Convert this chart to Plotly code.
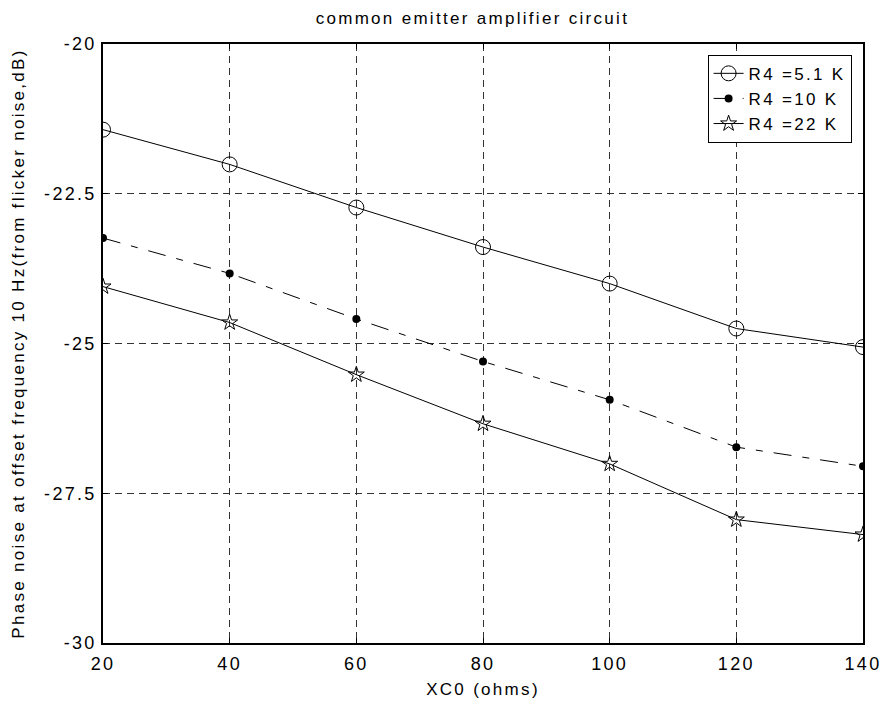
import plotly.graph_objects as go

# XC0 sweep (ohms) and phase noise at 10 Hz offset (dB) for each R4
xc0 = [20, 40, 60, 80, 100, 120, 140]
r4_5k1 = [-21.43, -22.01, -22.73, -23.39, -24.00, -24.75, -25.06]
r4_10k = [-23.24, -23.83, -24.59, -25.30, -25.94, -26.73, -27.05]
r4_22k = [-24.05, -24.65, -25.52, -26.34, -27.01, -27.94, -28.19]

x_ticks = [20, 40, 60, 80, 100, 120, 140]
y_ticks = [-30, -27.5, -25, -22.5, -20]
y_tick_text = ["-30", "-27.5", "-25", "-22.5", "-20"]

FONT = "Liberation Sans, Arial, sans-serif"
FONT_SPACED = "Liberation Sans, Arial, Helvetica, sans-serif"

fig = go.Figure()
fig.add_trace(go.Scatter(
    x=xc0, y=r4_5k1, mode="lines+markers", name="R4 =5.1 K",
    line=dict(color="black", width=1),
    marker=dict(symbol="circle-open", size=15, color="black", line=dict(width=1)),
))
fig.add_trace(go.Scatter(
    x=xc0, y=r4_10k, mode="lines+markers", name="R4 =10 K",
    line=dict(color="black", width=1, dash="18px,11px,7px,11px"),
    marker=dict(symbol="circle", size=8, color="black"),
))
fig.add_trace(go.Scatter(
    x=xc0, y=r4_22k, mode="lines+markers", name="R4 =22 K",
    line=dict(color="black", width=1),
    marker=dict(symbol="star-open", size=12, color="black", line=dict(width=1)),
))

axis_common = dict(
    showline=True, linecolor="black", linewidth=1.5, mirror="allticks",
    ticks="inside", ticklen=5, tickcolor="black",
    showgrid=True, gridcolor="#333333", gridwidth=1, griddash="7px,5px",
    zeroline=False, automargin=False,
    tickfont=dict(size=18, color="black"),
)

fig.update_layout(
    width=883, height=707,
    margin=dict(l=103, r=20, t=44, b=64),
    paper_bgcolor="white", plot_bgcolor="white",
    font=dict(family=FONT, color="black", size=17),
    title=dict(text="common emitter amplifier circuit", x=0.535, xanchor="center",
               y=0.974, yanchor="middle", font=dict(size=17, color="black")),
    xaxis=dict(range=[20, 140], tickvals=x_ticks, ticklabelstandoff=4,
               title=dict(text="XC0 (ohms)", standoff=10, font=dict(size=17)),
               **axis_common),
    yaxis=dict(range=[-30, -20], tickvals=y_ticks, ticktext=y_tick_text,
               ticklabelstandoff=1,
               title=dict(text="Phase noise at offset frequency 10 Hz(from flicker noise,dB)",
                          standoff=15, font=dict(size=17)),
               **axis_common),
    legend=dict(x=0.985, y=0.982, xanchor="right", yanchor="top",
                bordercolor="black", borderwidth=1, bgcolor="white",
                font=dict(size=17, color="black"),
                itemwidth=30),
    showlegend=True,
)

# The text is drawn with wide tracking; the style is added and the figure is
# laid out again so that label and legend sizes are measured with it.
post = """
var gd = document.getElementById('{plot_id}');
var st = document.createElement('style');
st.textContent = 'svg text { letter-spacing: 2.3px; }';
document.head.appendChild(st);
return Plotly.relayout(gd, {'font.family': '%s'});
""" % FONT_SPACED

fig.write_html("out.html", post_script=post)
